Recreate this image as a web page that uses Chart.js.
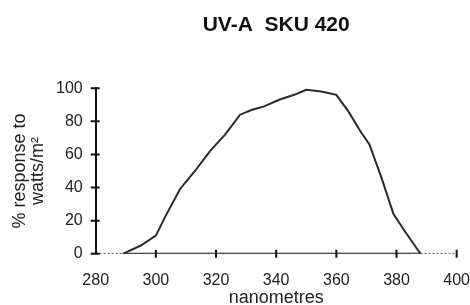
<!DOCTYPE html>
<html><head><meta charset="utf-8">
<script src="https://cdn.jsdelivr.net/npm/chart.js@4"></script>
<style>html,body{margin:0;padding:0;background:#fff}#wrap{width:470px;height:305px}</style>
</head><body><div id="wrap"><canvas id="c"></canvas></div>
<script>
const wavelengths = [289, 295, 300, 303, 308, 313, 318, 323, 328, 332, 336, 341, 346, 350, 355, 360, 364, 368, 371, 375, 379, 383, 388];
const response    = [0, 5, 11, 22, 39, 50, 62, 72, 84, 87, 89, 93, 96, 99, 98, 96, 86, 74, 66, 46, 24, 13, 0];
const dottedStart = [[280, 0], [289, 0]];
const dottedEnd   = [[388, 0], [400, 0]];
const baseline    = [[289, 0], [388, 0]];
const xTicks = [280, 300, 320, 340, 360, 380, 400];
const yTicks = [0, 20, 40, 60, 80, 100];
const titleText = 'UV-A  SKU 420';
const yTitle = ['% response to', 'watts/m\u00B2'];
const xTitle = 'nanometres';

const font = "'Liberation Sans', Arial, sans-serif";
const toPts = arr => arr.map(p => ({x: p[0], y: p[1]}));

// draws tick marks that cross the axis lines, positioned through the scales
const crossTicks = {
  id: 'crossTicks',
  afterDatasetsDraw(chart) {
    const {ctx, scales: {x, y}} = chart;
    ctx.save();
    ctx.strokeStyle = '#111';
    ctx.lineWidth = 2;
    ctx.beginPath();
    x.ticks.forEach(t => {
      if (t.value === x.min) return;
      const px = x.getPixelForValue(t.value);
      ctx.moveTo(px, y.bottom - 4); ctx.lineTo(px, y.bottom + 4);
    });
    y.ticks.forEach(t => {
      const py = y.getPixelForValue(t.value);
      ctx.moveTo(x.left - 5, py); ctx.lineTo(x.left + 4, py);
    });
    ctx.stroke();
    ctx.restore();
  }
};

new Chart(document.getElementById('c'), {
  type: 'line',
  data: {
    datasets: [
      { data: wavelengths.map((w, i) => ({x: w, y: response[i]})), borderColor: '#2a2a2a', borderWidth: 2, pointRadius: 0, tension: 0 },
      { data: toPts(baseline), borderColor: '#111', borderWidth: 2.2, pointRadius: 0 },
      { data: toPts(dottedStart), borderColor: '#333', borderWidth: 1.8, borderDash: [2, 2], pointRadius: 0 },
      { data: toPts(dottedEnd), borderColor: '#333', borderWidth: 1.8, borderDash: [2, 2], pointRadius: 0 }
    ]
  },
  plugins: [crossTicks],
  options: {
    responsive: true, maintainAspectRatio: false, animation: false,
    layout: { padding: { left: 11, right: 0, top: 0, bottom: 0 } },
    plugins: {
      legend: { display: false }, tooltip: { enabled: false },
      title: { display: true, text: titleText, fullSize: false, color: '#111', font: { family: font, size: 21, weight: 'bold' }, padding: { top: 13, bottom: 50 } }
    },
    scales: {
      x: {
        type: 'linear', min: 280, max: 400,
        afterBuildTicks: s => { s.ticks = xTicks.map(v => ({value: v})); },
        border: { display: false },
        grid: { drawOnChartArea: false, tickColor: 'rgba(0,0,0,0)', tickLength: 17 },
        ticks: { color: '#222', font: { family: font, size: 16 }, padding: 0, maxRotation: 0 },
        title: { display: true, text: xTitle, color: '#222', font: { family: font, size: 18, lineHeight: 1 }, padding: { top: -1, bottom: -2 } }
      },
      y: {
        min: 0, max: 100,
        afterBuildTicks: s => { s.ticks = yTicks.map(v => ({value: v})); },
        border: { color: '#111', width: 2 },
        grid: { drawOnChartArea: false, tickColor: 'rgba(0,0,0,0)', tickLength: 13 },
        ticks: { color: '#222', font: { family: font, size: 16 }, padding: 0 },
        title: { display: true, text: yTitle, color: '#222', font: { family: font, size: 18, lineHeight: 1 }, padding: { top: 0, bottom: 9 } }
      }
    }
  }
});
</script></body></html>
